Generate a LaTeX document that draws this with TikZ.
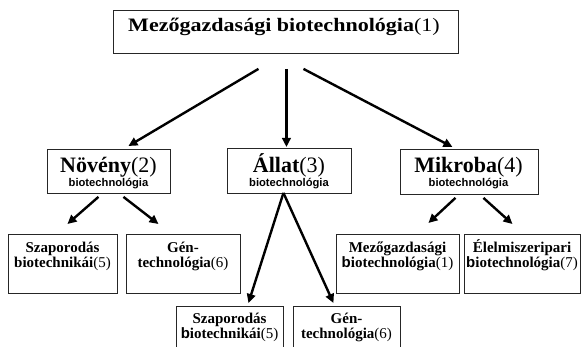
\documentclass[tikz,border=0pt]{standalone}
\usepackage{fontspec}
\setmainfont{Liberation Serif}
\setsansfont{Liberation Sans}
\usetikzlibrary{arrows.meta,calc}
\tikzset{
  box/.style={draw=black!85, line width=0.9pt, inner sep=0pt, anchor=north west},
  txt/.style={inner sep=0pt, anchor=base, align=center},
  arr/.style={line width=2.4pt, -{Triangle[length=9pt,width=8.5pt]}},
}
\newcommand{\bigt}[1]{{\fontsize{22}{24}\selectfont #1}}
\newcommand{\subt}[1]{{\sffamily\bfseries\fontsize{11.2}{12}\selectfont #1}}
\newcommand{\smt}{\fontsize{15}{16}\selectfont}
\begin{document}
\begin{tikzpicture}[x=1pt,y=-1pt]
\clip (0,0) rectangle (582,347);
\fill[white] (0,0) rectangle (582,347);
% boxes
\node[box, minimum width=345pt, minimum height=43pt] (top) at (113,10) {};
\node[box, minimum width=123pt, minimum height=44pt] (nov) at (47,149) {};
\node[box, minimum width=124pt, minimum height=45pt] (all) at (227,148) {};
\node[box, minimum width=138pt, minimum height=45pt] (mik) at (400,149) {};
\node[box, minimum width=109pt, minimum height=59pt] (a) at (8,234) {};
\node[box, minimum width=114pt, minimum height=59pt] (b) at (126,234) {};
\node[box, minimum width=123pt, minimum height=59pt] (e) at (336,234) {};
\node[box, minimum width=116pt, minimum height=59pt] (f) at (464,234) {};
\node[box, minimum width=107pt, minimum height=59pt] (c) at (176,306) {};
\node[box, minimum width=107pt, minimum height=59pt] (d) at (293,306) {};
% texts
\node[txt] (ttop) at (284,32) {\scalebox{1.16}[1]{\fontsize{19}{21}\selectfont\textbf{Mezőgazdasági biotechnológia}(1)}};
\node[txt] (tnov) at (108.5,173) {\bigt{\textbf{Növény}(2)}};
\node[txt] (snov) at (108.5,187) {\subt{biotechnológia}};
\node[txt] (tall) at (289,173) {\bigt{\textbf{Állat}(3)}};
\node[txt] (sall) at (289,187) {\subt{biotechnológia}};
\node[txt] (tmik) at (468.5,173) {\bigt{\textbf{Mikroba}(4)}};
\node[txt] (smik) at (468.5,187) {\subt{biotechnológia}};
\node[txt] (ta1) at (62.5,253) {\smt\textbf{Szaporodás}};
\node[txt] (ta2) at (62.5,268) {\smt\textbf{biotechnikái}(5)};
\node[txt] (tb1) at (183,253) {\smt\textbf{Gén-}};
\node[txt] (tb2) at (183,268) {\smt\textbf{technológia}(6)};
\node[txt] (te1) at (397.5,253) {\smt\textbf{Mezőgazdasági}};
\node[txt] (te2) at (397.5,268) {\smt\textbf{{\sffamily b}iotechnológia}(1)};
\node[txt] (tf1) at (522,253) {\smt\textbf{Élelmiszeripari}};
\node[txt] (tf2) at (522,268) {\smt\textbf{{\sffamily b}iotechnológia}(7)};
\node[txt] (tc1) at (229.5,324) {\smt\textbf{Szaporodás}};
\node[txt] (tc2) at (229.5,339) {\smt\textbf{{\sffamily b}iotechnikái}(5)};
\node[txt] (td1) at (346.5,324) {\smt\textbf{Gén-}};
\node[txt] (td2) at (346.5,339) {\smt\textbf{technológia}(6)};
% arrows
\draw[arr] ($(top.south)+(-27.5,15)$) -- ($(nov.north)+(19.5,-3)$);
\draw[arr] ($(top.south)+(0.5,15)$) -- ($(all.north)+(-3,-1)$);
\draw[arr] ($(top.south)+(17.5,15)$) -- ($(mik.north)+(-17,-2)$);
\draw[arr] ($(nov.south)+(-10.5,3)$) -- ($(a.north)+(4.5,-10)$);
\draw[arr] ($(nov.south)+(14.5,3)$) -- ($(b.north)+(-25,-10)$);
\draw[arr] ($(all.south)+(-6,-1)$) -- ($(c.north)+(18.5,-3)$);
\draw[arr] ($(all.south)+(-6,-1)$) -- ($(d.north)+(-13.5,-3)$);
\draw[arr] ($(mik.south)+(-14,3)$) -- ($(e.north)+(30.5,-11)$);
\draw[arr] ($(mik.south)+(14,3)$) -- ($(f.north)+(-10,-10)$);
\end{tikzpicture}
\end{document}
